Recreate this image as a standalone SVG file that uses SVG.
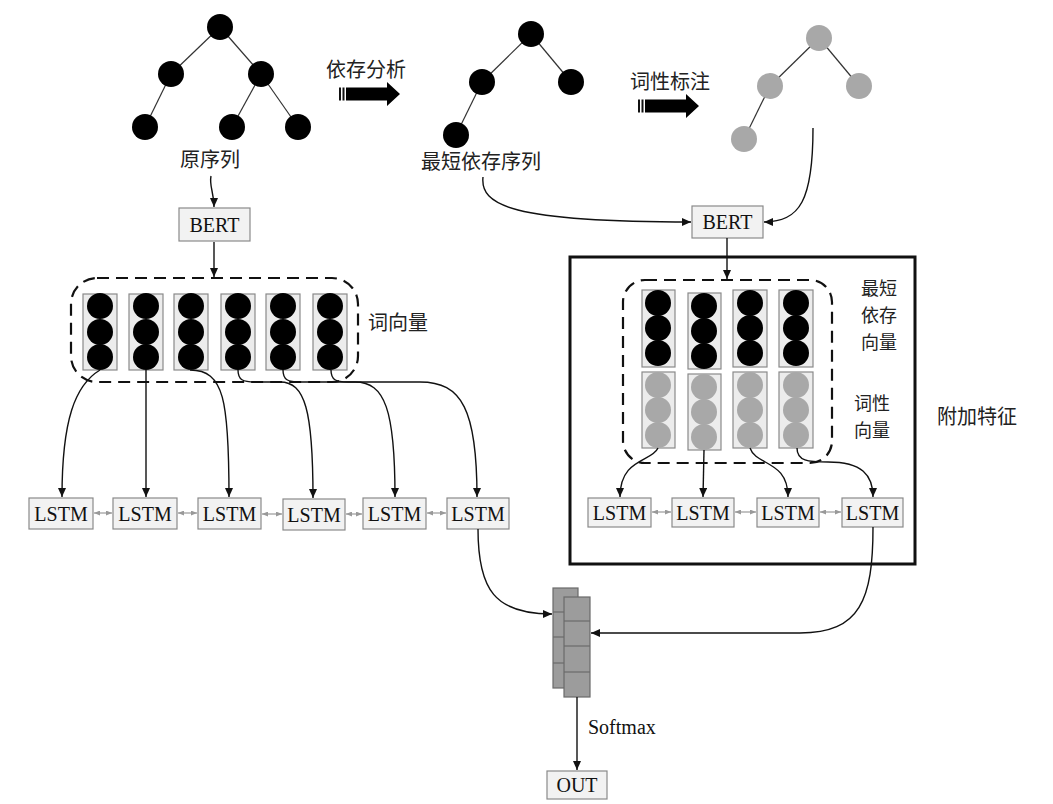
<svg xmlns="http://www.w3.org/2000/svg" width="1053" height="804" viewBox="0 0 1053 804">
  <style>
    .cjk { font-family: "Noto Sans CJK SC", "Noto Sans", sans-serif; font-size: 20px; fill: #222; }
    .cjk-s { font-family: "Noto Sans CJK SC", "Noto Sans", sans-serif; font-size: 18px; fill: #222; }
    .lat { font-family: "Liberation Serif", "Times New Roman", serif; font-size: 20px; fill: #111; }
    .box { fill: #f2f2f2; stroke: #8a8a8a; stroke-width: 1.2; }
    .col { fill: #ececec; stroke: #8a8a8a; stroke-width: 1.2; }
    .dot { fill: #000; }
    .gdot { fill: #a8a8a8; }
    .edge { stroke: #333; stroke-width: 1.2; fill: none; }
    .wire { stroke: #111; stroke-width: 1.4; fill: none; marker-end: url(#tip); }
    .link { stroke: #999; stroke-width: 1.2; fill: none; marker-start: url(#gtip); marker-end: url(#gtip); }
    .dash { fill: none; stroke: #111; stroke-width: 2.2; stroke-dasharray: 12 7; }
    .stack { fill: #9c9c9c; stroke: #6a6a6a; stroke-width: 1.2; }
  </style>
  <defs>
    <marker id="tip" markerUnits="userSpaceOnUse" markerWidth="9" markerHeight="8" refX="9" refY="4" orient="auto">
      <path d="M0,0 L9,4 L0,8 z" fill="#111"/>
    </marker>
    <marker id="gtip" markerUnits="userSpaceOnUse" markerWidth="6" markerHeight="5" refX="6" refY="2.5" orient="auto-start-reverse">
      <path d="M0,0 L6,2.5 L0,5 z" fill="#999"/>
    </marker>
    <g id="fatArrow">
      <rect x="0" y="-6.5" width="2" height="13" fill="#111"/>
      <rect x="3.5" y="-6.5" width="2" height="13" fill="#111"/>
      <path d="M7,-6.5 L48,-6.5 L48,-12 L61,0 L48,12 L48,6.5 L7,6.5 z" fill="#000"/>
    </g>
  </defs>
  <rect width="1053" height="804" fill="#fff"/>

  <!-- original sentence tree -->
  <g id="tree-original">
    <line class="edge" x1="220" y1="27" x2="171" y2="74"/>
    <line class="edge" x1="220" y1="27" x2="261" y2="74"/>
    <line class="edge" x1="171" y1="74" x2="145" y2="127"/>
    <line class="edge" x1="261" y1="74" x2="232" y2="127"/>
    <line class="edge" x1="261" y1="74" x2="298" y2="127"/>
    <circle class="dot" cx="220" cy="27" r="13"/>
    <circle class="dot" cx="171" cy="74" r="13"/>
    <circle class="dot" cx="261" cy="74" r="13"/>
    <circle class="dot" cx="145" cy="127" r="13"/>
    <circle class="dot" cx="232" cy="127" r="13"/>
    <circle class="dot" cx="298" cy="127" r="13"/>
    <text class="cjk" x="210" y="167" text-anchor="middle">原序列</text>
  </g>

  <!-- dependency parsing step -->
  <g id="step-parse">
    <text class="cjk" x="366" y="77" text-anchor="middle">依存分析</text>
    <use href="#fatArrow" x="339" y="94"/>
  </g>

  <!-- shortest dependency path tree -->
  <g id="tree-shortest">
    <line class="edge" x1="531" y1="34" x2="482" y2="82"/>
    <line class="edge" x1="531" y1="34" x2="571" y2="82"/>
    <line class="edge" x1="482" y1="82" x2="456" y2="135"/>
    <circle class="dot" cx="531" cy="34" r="13"/>
    <circle class="dot" cx="482" cy="82" r="13"/>
    <circle class="dot" cx="571" cy="82" r="13"/>
    <circle class="dot" cx="456" cy="135" r="13"/>
    <text class="cjk" x="481" y="169" text-anchor="middle">最短依存序列</text>
  </g>

  <!-- POS tagging step -->
  <g id="step-pos">
    <text class="cjk" x="670" y="89" text-anchor="middle">词性标注</text>
    <use href="#fatArrow" x="638" y="106"/>
  </g>

  <!-- POS tree -->
  <g id="tree-pos">
    <line class="edge" x1="819" y1="38" x2="770" y2="86"/>
    <line class="edge" x1="819" y1="38" x2="859" y2="86"/>
    <line class="edge" x1="770" y1="86" x2="744" y2="139"/>
    <circle class="gdot" cx="819" cy="38" r="13"/>
    <circle class="gdot" cx="770" cy="86" r="13"/>
    <circle class="gdot" cx="859" cy="86" r="13"/>
    <circle class="gdot" cx="744" cy="139" r="13"/>
  </g>

  <!-- BERT encoders -->
  <g id="bert-left">
    <rect class="box" x="179" y="208" width="71" height="33"/>
    <text class="lat" x="214.5" y="232" text-anchor="middle">BERT</text>
  </g>
  <g id="bert-right">
    <rect class="box" x="692" y="206" width="71" height="32"/>
    <text class="lat" x="727.5" y="229" text-anchor="middle">BERT</text>
  </g>

  <!-- word vectors -->
  <g id="word-vectors">
    <rect class="dash" x="71" y="278" width="287" height="104" rx="26"/>
    <g>
      <rect class="col" x="83" y="294" width="34" height="76"/>
      <rect class="col" x="129" y="294" width="34" height="76"/>
      <rect class="col" x="174" y="294" width="34" height="76"/>
      <rect class="col" x="221" y="294" width="34" height="76"/>
      <rect class="col" x="266" y="294" width="34" height="76"/>
      <rect class="col" x="313" y="294" width="34" height="76"/>
    </g>
    <g>
      <circle class="dot" cx="100" cy="306" r="13"/><circle class="dot" cx="100" cy="332" r="13"/><circle class="dot" cx="100" cy="357" r="13"/>
      <circle class="dot" cx="146" cy="306" r="13"/><circle class="dot" cx="146" cy="332" r="13"/><circle class="dot" cx="146" cy="357" r="13"/>
      <circle class="dot" cx="191" cy="306" r="13"/><circle class="dot" cx="191" cy="332" r="13"/><circle class="dot" cx="191" cy="357" r="13"/>
      <circle class="dot" cx="238" cy="306" r="13"/><circle class="dot" cx="238" cy="332" r="13"/><circle class="dot" cx="238" cy="357" r="13"/>
      <circle class="dot" cx="283" cy="306" r="13"/><circle class="dot" cx="283" cy="332" r="13"/><circle class="dot" cx="283" cy="357" r="13"/>
      <circle class="dot" cx="330" cy="306" r="13"/><circle class="dot" cx="330" cy="332" r="13"/><circle class="dot" cx="330" cy="357" r="13"/>
    </g>
    <text class="cjk" x="398" y="330" text-anchor="middle">词向量</text>
  </g>

  <!-- additional features frame -->
  <g id="extra-features">
    <rect x="570" y="257" width="345" height="307" fill="none" stroke="#111" stroke-width="3"/>
    <text class="cjk" x="977" y="424" text-anchor="middle">附加特征</text>
    <rect class="dash" x="623" y="280" width="209" height="183" rx="22"/>
    <g>
      <rect class="col" x="642" y="290" width="33" height="77"/>
      <rect class="col" x="688" y="293" width="33" height="76"/>
      <rect class="col" x="733" y="290" width="34" height="77"/>
      <rect class="col" x="779" y="290" width="34" height="77"/>
      <rect class="col" x="642" y="372" width="33" height="76"/>
      <rect class="col" x="688" y="374" width="33" height="76"/>
      <rect class="col" x="733" y="372" width="34" height="76"/>
      <rect class="col" x="779" y="372" width="34" height="76"/>
    </g>
    <g>
      <circle class="dot" cx="658" cy="303" r="13"/><circle class="dot" cx="658" cy="328" r="13"/><circle class="dot" cx="658" cy="353" r="13"/>
      <circle class="dot" cx="704" cy="306" r="13"/><circle class="dot" cx="704" cy="331" r="13"/><circle class="dot" cx="704" cy="356" r="13"/>
      <circle class="dot" cx="750" cy="303" r="13"/><circle class="dot" cx="750" cy="328" r="13"/><circle class="dot" cx="750" cy="353" r="13"/>
      <circle class="dot" cx="796" cy="303" r="13"/><circle class="dot" cx="796" cy="328" r="13"/><circle class="dot" cx="796" cy="353" r="13"/>
      <circle class="gdot" cx="658" cy="385" r="13"/><circle class="gdot" cx="658" cy="410" r="13"/><circle class="gdot" cx="658" cy="435" r="13"/>
      <circle class="gdot" cx="704" cy="387" r="13"/><circle class="gdot" cx="704" cy="412" r="13"/><circle class="gdot" cx="704" cy="437" r="13"/>
      <circle class="gdot" cx="750" cy="385" r="13"/><circle class="gdot" cx="750" cy="410" r="13"/><circle class="gdot" cx="750" cy="435" r="13"/>
      <circle class="gdot" cx="796" cy="385" r="13"/><circle class="gdot" cx="796" cy="410" r="13"/><circle class="gdot" cx="796" cy="435" r="13"/>
    </g>
    <text class="cjk-s" x="879" y="295" text-anchor="middle">最短</text>
    <text class="cjk-s" x="879" y="322" text-anchor="middle">依存</text>
    <text class="cjk-s" x="879" y="349" text-anchor="middle">向量</text>
    <text class="cjk-s" x="872" y="410" text-anchor="middle">词性</text>
    <text class="cjk-s" x="872" y="437" text-anchor="middle">向量</text>
  </g>

  <!-- left LSTM chain -->
  <g id="lstm-left">
    <rect class="box" x="29" y="498" width="64" height="31"/>
    <rect class="box" x="113" y="498" width="64" height="31"/>
    <rect class="box" x="198" y="498" width="63" height="31"/>
    <rect class="box" x="283" y="499" width="62" height="31"/>
    <rect class="box" x="363" y="498" width="63" height="31"/>
    <rect class="box" x="447" y="498" width="62" height="31"/>
    <text class="lat" x="61" y="521" text-anchor="middle">LSTM</text>
    <text class="lat" x="145" y="521" text-anchor="middle">LSTM</text>
    <text class="lat" x="229.5" y="521" text-anchor="middle">LSTM</text>
    <text class="lat" x="314" y="522" text-anchor="middle">LSTM</text>
    <text class="lat" x="394.5" y="521" text-anchor="middle">LSTM</text>
    <text class="lat" x="478" y="521" text-anchor="middle">LSTM</text>
  </g>

  <!-- right LSTM chain -->
  <g id="lstm-right">
    <rect class="box" x="588" y="498" width="63" height="29"/>
    <rect class="box" x="672" y="498" width="62" height="29"/>
    <rect class="box" x="757" y="498" width="62" height="29"/>
    <rect class="box" x="842" y="498" width="61" height="29"/>
    <text class="lat" x="619.5" y="520" text-anchor="middle">LSTM</text>
    <text class="lat" x="703" y="520" text-anchor="middle">LSTM</text>
    <text class="lat" x="788" y="520" text-anchor="middle">LSTM</text>
    <text class="lat" x="872.5" y="520" text-anchor="middle">LSTM</text>
  </g>

  <!-- concatenation stack -->
  <g id="concat">
    <rect class="stack" x="553" y="588" width="25" height="100"/>
    <line x1="553" y1="612" x2="578" y2="612" stroke="#6a6a6a" stroke-width="1.2"/>
    <line x1="553" y1="637" x2="578" y2="637" stroke="#6a6a6a" stroke-width="1.2"/>
    <line x1="553" y1="663" x2="578" y2="663" stroke="#6a6a6a" stroke-width="1.2"/>
    <rect class="stack" x="564" y="597" width="26" height="100"/>
    <line x1="564" y1="621" x2="590" y2="621" stroke="#6a6a6a" stroke-width="1.2"/>
    <line x1="564" y1="646" x2="590" y2="646" stroke="#6a6a6a" stroke-width="1.2"/>
    <line x1="564" y1="672" x2="590" y2="672" stroke="#6a6a6a" stroke-width="1.2"/>
  </g>

  <g id="out">
    <rect class="box" x="547" y="771" width="60" height="28"/>
    <text class="lat" x="577" y="792" text-anchor="middle">OUT</text>
  </g>

  <!-- connectors -->
  <g id="connectors">
    <path class="wire" d="M211,176 C209,186 214,192 214,207"/>
    <path class="wire" d="M214,242 L214,277"/>
    <path class="wire" d="M483,177 C480,205 510,222 691,222"/>
    <path class="wire" d="M813,128 C813,200 800,222 764,222"/>
    <path class="wire" d="M727,238 L727,279"/>

    <path class="wire" d="M100,370 C75,385 62,420 62,497"/>
    <path class="wire" d="M146,370 L146,497"/>
    <path class="wire" d="M190,370 C224,370 229,400 229,497"/>
    <path class="wire" d="M238,370 C238,380 243,382 255,382 L280,382 C305,382 313,410 313,498"/>
    <path class="wire" d="M283,370 C283,380 288,382 300,382 L355,382 C385,382 395,410 395,497"/>
    <path class="wire" d="M331,370 C331,380 336,382 348,382 L420,382 C462,382 477,410 477,497"/>

    <path class="wire" d="M658,448 C652,462 620,458 620,497"/>
    <path class="wire" d="M704,450 L703,497"/>
    <path class="wire" d="M750,448 C756,466 788,460 788,497"/>
    <path class="wire" d="M797,448 C797,461 808,462 828,462 C862,462 873,475 873,497"/>

    <path class="link" d="M94,513 L112,513"/>
    <path class="link" d="M178,513 L197,513"/>
    <path class="link" d="M262,514 L282,514"/>
    <path class="link" d="M346,514 L362,514"/>
    <path class="link" d="M427,513 L446,513"/>
    <path class="link" d="M652,512 L671,512"/>
    <path class="link" d="M735,512 L756,512"/>
    <path class="link" d="M820,512 L841,512"/>

    <path class="wire" d="M478,529 C478,590 495,614 552,614"/>
    <path class="wire" d="M873,527 C873,600 860,633 800,633 L591,633"/>
    <path class="wire" d="M577,697 L577,770"/>
    <text class="lat" x="588" y="734">Softmax</text>
  </g>
</svg>
